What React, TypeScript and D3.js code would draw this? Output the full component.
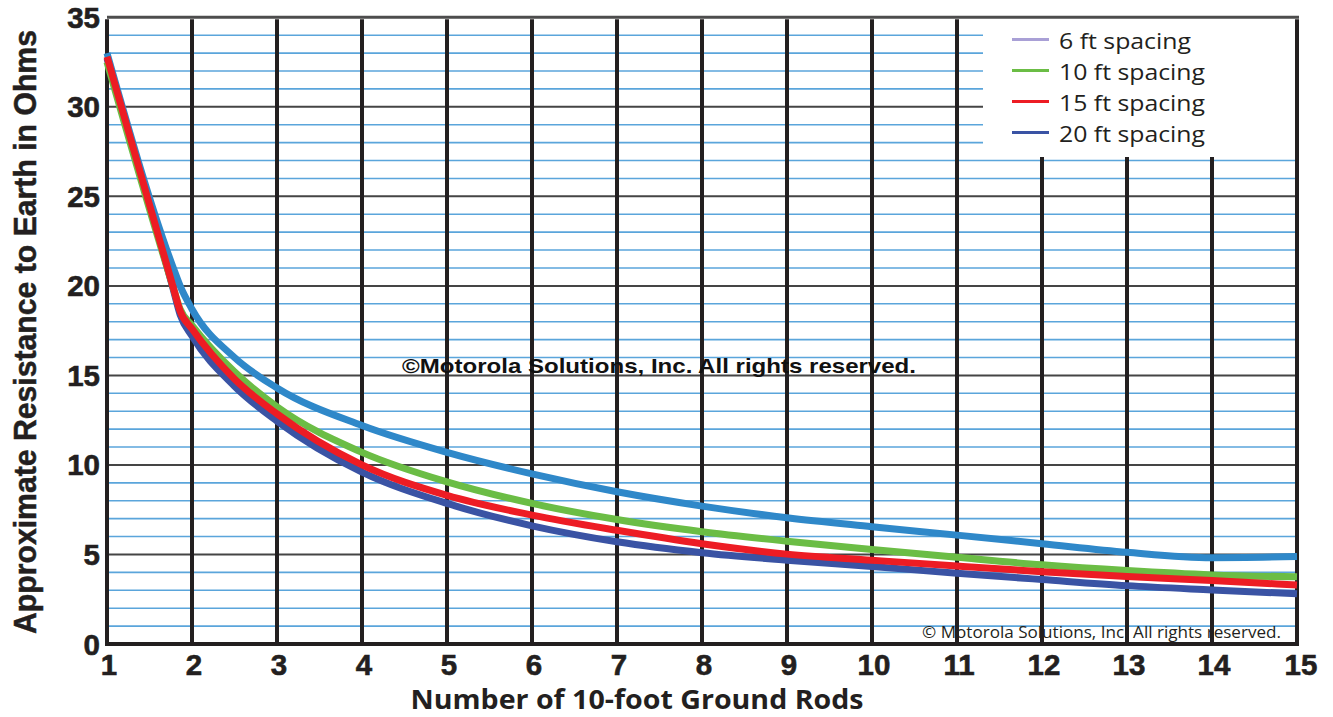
import React from "react";
import * as d3 from "d3";

const rods = [1, 1.78, 1.86, 2, 2.5, 3, 4, 5, 6, 7, 8, 9, 10, 11, 12, 13, 14, 15];
const spacing6 = [33.0, 21.0, 20.0, 18.7, 16.0, 14.3, 12.2, 10.7, 9.5, 8.5, 7.7, 7.05, 6.55, 6.08, 5.6, 5.12, 4.82, 4.88];
const spacing10 = [32.5, 19.9, 18.7, 17.8, 15.2, 13.25, 10.7, 9.05, 7.85, 6.95, 6.27, 5.74, 5.28, 4.84, 4.42, 4.1, 3.86, 3.75];
const spacing15 = [32.8, 19.9, 18.6, 17.6, 14.8, 12.85, 10.0, 8.3, 7.2, 6.35, 5.6, 5.02, 4.68, 4.35, 4.04, 3.77, 3.54, 3.3];
const spacing20 = [32.7, 19.8, 18.4, 17.2, 14.4, 12.45, 9.6, 7.85, 6.6, 5.71, 5.1, 4.68, 4.33, 3.95, 3.6, 3.26, 3.02, 2.8];

const xTicks = [1, 2, 3, 4, 5, 6, 7, 8, 9, 10, 11, 12, 13, 14, 15];
const yTicks = [0, 5, 10, 15, 20, 25, 30, 35];
const legendLabels = ["6 ft spacing", "10 ft spacing", "15 ft spacing", "20 ft spacing"];

const W = 1333;
const H = 717;

export default function App() {
  const x = d3.scaleLinear().domain([1, 15]).range([107, 1297]);
  const y = d3.scaleLinear().domain([0, 35]).range([644, 17.3]);

  const line = (vals: number[]) =>
    d3
      .line<number>()
      .x((_, i) => x(rods[i]))
      .y((v) => y(v))
      .curve(d3.curveMonotoneX)(vals) || "";

  const minor = d3.range(1, 35).filter((v) => v % 5 !== 0);
  const major = [5, 10, 15, 20, 25, 30];

  const curveColors = { s6: "#2f88c9", s10: "#6bbd45", s15: "#ed1c24", s20: "#3a53a4" };
  const legendColors = ["#a9a0d6", "#6bbd45", "#ed1c24", "#3a53a4"];

  const legendTop = 18;
  const legendBottom = 157;
  const legendLeft = 983;

  const sans = "'Liberation Sans', Arial, Helvetica, sans-serif";
  const myriad = "'Open Sans', Lato, sans-serif";

  return (
    <svg
      width={W}
      height={H}
      style={{ position: "absolute", left: 0, top: 0, background: "#fff" }}
    >
      {/* minor gridlines */}
      {minor.map((v) => (
        <line key={"mi" + v} x1={x(1)} x2={x(15)} y1={y(v)} y2={y(v)} stroke="#5aa5db" strokeWidth={1.6} />
      ))}
      {/* major gridlines */}
      {major.map((v) => (
        <line key={"ma" + v} x1={x(1)} x2={x(15)} y1={y(v)} y2={y(v)} stroke="#454545" strokeWidth={2} />
      ))}
      {/* top line */}
      <line x1={x(1)} x2={x(15) + 2} y1={y(35)} y2={y(35)} stroke="#4d4d4d" strokeWidth={3} />

      {/* legend background */}
      <rect x={legendLeft} y={legendTop + 2} width={x(15) - legendLeft - 2} height={legendBottom - legendTop - 2} fill="#fff" />

      {/* vertical grid */}
      {xTicks.slice(1, -1).map((t) => (
        <line
          key={"v" + t}
          x1={x(t)}
          x2={x(t)}
          y1={x(t) > legendLeft ? legendBottom : y(35) + 2}
          y2={y(0)}
          stroke="#231f20"
          strokeWidth={4}
        />
      ))}
      {/* axes / borders */}
      <line x1={x(1)} x2={x(1)} y1={y(35) + 2} y2={y(0) + 2} stroke="#231f20" strokeWidth={4} />
      <line x1={x(15)} x2={x(15)} y1={y(35) + 2} y2={y(0) + 2} stroke="#231f20" strokeWidth={4} />
      <line x1={x(1) - 2} x2={x(15) + 2} y1={y(0)} y2={y(0)} stroke="#231f20" strokeWidth={4} />

      {/* small watermark */}
      <text x={922} y={638} fontFamily={myriad} fontSize={16} fill="#231f20" textLength={359} lengthAdjust="spacingAndGlyphs">
        © Motorola Solutions, Inc. All rights reserved.
      </text>

      {/* curves */}
      <path d={line(spacing20)} fill="none" stroke={curveColors.s20} strokeWidth={7} />
      <path d={line(spacing10)} fill="none" stroke={curveColors.s10} strokeWidth={7} />
      <path d={line(spacing6)} fill="none" stroke={curveColors.s6} strokeWidth={7} />
      <path d={line(spacing15)} fill="none" stroke={curveColors.s15} strokeWidth={7} />

      {/* middle watermark */}
      <text x={402} y={373} fontFamily={sans} fontWeight="bold" fontSize={21} fill="#111" textLength={514} lengthAdjust="spacingAndGlyphs">
        ©Motorola Solutions, Inc. All rights reserved.
      </text>

      {/* legend */}
      {legendLabels.map((lab, i) => {
        const ly = 39.5 + i * 31;
        return (
          <g key={lab}>
            <line x1={1012} x2={1049} y1={ly} y2={ly} stroke={legendColors[i]} strokeWidth={3} />
            <text
              x={1059}
              y={ly + 9}
              fontFamily={myriad}
              fontSize={22}
              fill="#231f20"
              textLength={i === 0 ? 132 : 146}
              lengthAdjust="spacingAndGlyphs"
            >
              {lab}
            </text>
          </g>
        );
      })}

      {/* y tick labels */}
      {yTicks.map((t) => (
        <text key={"yt" + t} x={100} y={y(t) + 10.5} textAnchor="end" fontFamily={sans} fontWeight="bold" fontSize={29.5} fill="#231f20" stroke="#231f20" strokeWidth={0.6}>
          {t}
        </text>
      ))}
      {/* x tick labels */}
      {xTicks.map((t) => (
        <text key={"xt" + t} x={x(t) + (t === 15 ? 4 : 2)} y={675} textAnchor="middle" fontFamily={sans} fontWeight="bold" fontSize={29.5} fill="#231f20" stroke="#231f20" strokeWidth={0.6}>
          {t}
        </text>
      ))}

      {/* axis titles */}
      <text x={637} y={709} textAnchor="middle" fontFamily={myriad} fontWeight="bold" fontSize={26} fill="#231f20" textLength={453} lengthAdjust="spacingAndGlyphs">
        Number of 10-foot Ground Rods
      </text>
      <text
        transform={`translate(36, 332) rotate(-90)`}
        textAnchor="middle"
        fontFamily={sans}
        fontWeight="bold"
        fontSize={31}
        fill="#231f20"
        stroke="#231f20"
        strokeWidth={0.5}
        textLength={604}
        lengthAdjust="spacingAndGlyphs"
      >
        Approximate Resistance to Earth in Ohms
      </text>
    </svg>
  );
}
